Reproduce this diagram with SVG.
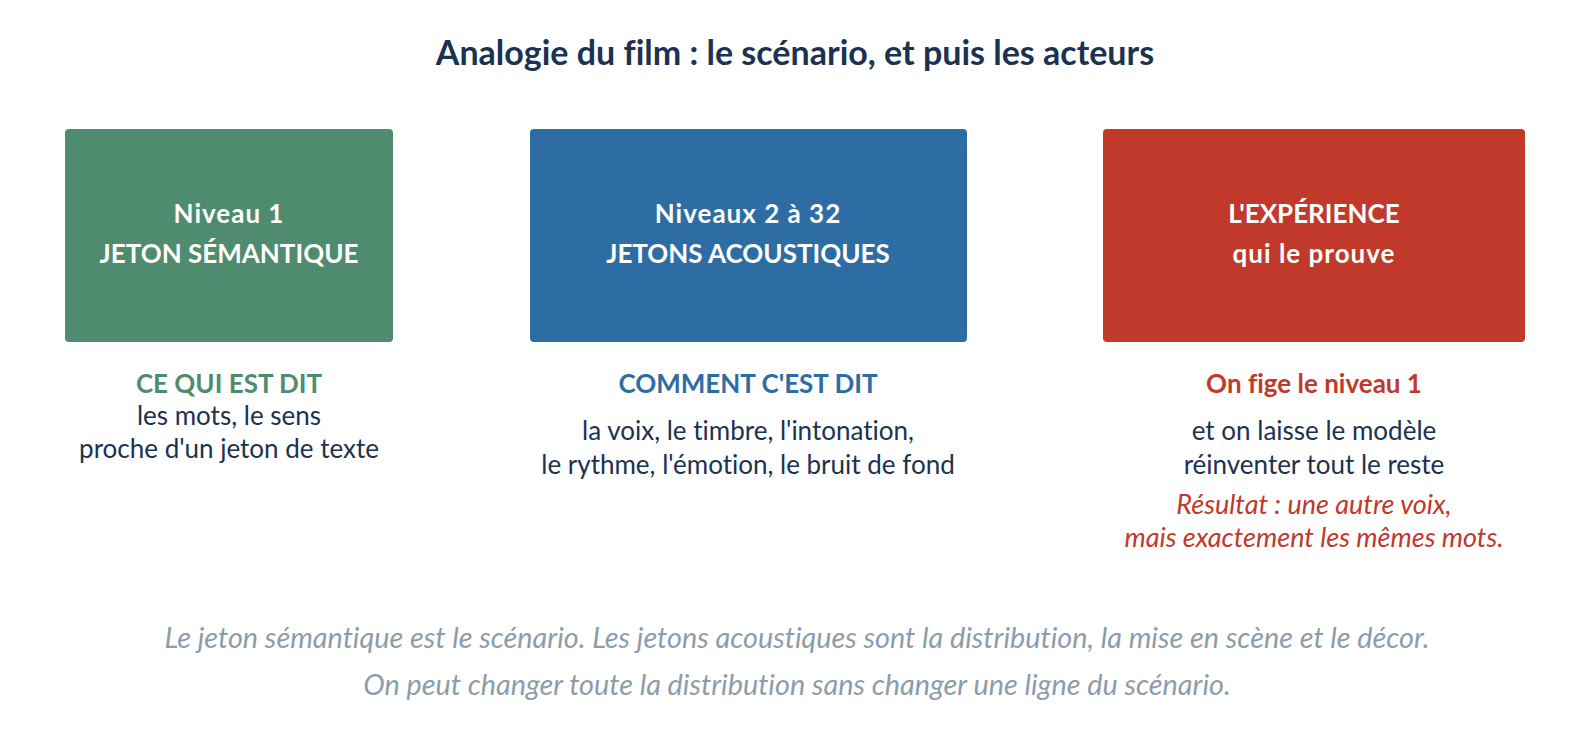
<svg xmlns="http://www.w3.org/2000/svg" width="1589" height="748" viewBox="0 0 1589 748">
<style>
text{font-family:Lato,"Open Sans","Liberation Sans",sans-serif;text-anchor:middle;font-variant-ligatures:none}
.title{font-size:34px;font-weight:700;fill:#1b3250}
.box{font-size:26px;font-weight:700;fill:#ffffff}
.lc{letter-spacing:1px}
.head{font-size:26px;font-weight:700}
.body{font-size:26px;fill:#1b3250}
.it{font-size:27px;font-style:italic;fill:#c0392b}
.foot{font-size:28.8px;font-style:italic;fill:#8d9cab}
</style>
<rect width="1589" height="748" fill="#ffffff"/>
<text class="title" x="795" y="65">Analogie du film : le scénario, et puis les acteurs</text>
<g id="niveau1">
<rect x="65" y="129" width="328" height="213" rx="4" fill="#4f8c6f"/>
<text class="box lc" x="229" y="223">Niveau 1</text>
<text class="box" x="229" y="263">JETON SÉMANTIQUE</text>
<text class="head" x="229" y="393" fill="#4f8c6f">CE QUI EST DIT</text>
<text class="body" x="229" y="425">les mots, le sens</text>
<text class="body" x="229" y="458">proche d'un jeton de texte</text>
</g>
<g id="niveaux2-32">
<rect x="530" y="129" width="437" height="213" rx="4" fill="#2e6da4"/>
<text class="box lc" x="748" y="223">Niveaux 2 à 32</text>
<text class="box" x="748" y="263">JETONS ACOUSTIQUES</text>
<text class="head" x="748" y="393" fill="#2e6da4">COMMENT C'EST DIT</text>
<text class="body" x="748" y="440">la voix, le timbre, l'intonation,</text>
<text class="body" x="748" y="474">le rythme, l'émotion, le bruit de fond</text>
</g>
<g id="experience">
<rect x="1103" y="129" width="422" height="213" rx="4" fill="#c0392b"/>
<text class="box" x="1314" y="223">L'EXPÉRIENCE</text>
<text class="box lc" x="1314" y="263">qui le prouve</text>
<text class="head" x="1314" y="393" fill="#c0392b">On fige le niveau 1</text>
<text class="body" x="1314" y="440">et on laisse le modèle</text>
<text class="body" x="1314" y="474">réinventer tout le reste</text>
<text class="it" x="1314" y="514">Résultat : une autre voix,</text>
<text class="it" x="1314" y="547">mais exactement les mêmes mots.</text>
</g>
<g id="connectors"></g>
<g id="footer">
<text class="foot" x="797" y="648">Le jeton sémantique est le scénario. Les jetons acoustiques sont la distribution, la mise en scène et le décor.</text>
<text class="foot" x="797" y="695">On peut changer toute la distribution sans changer une ligne du scénario.</text>
</g>
</svg>
